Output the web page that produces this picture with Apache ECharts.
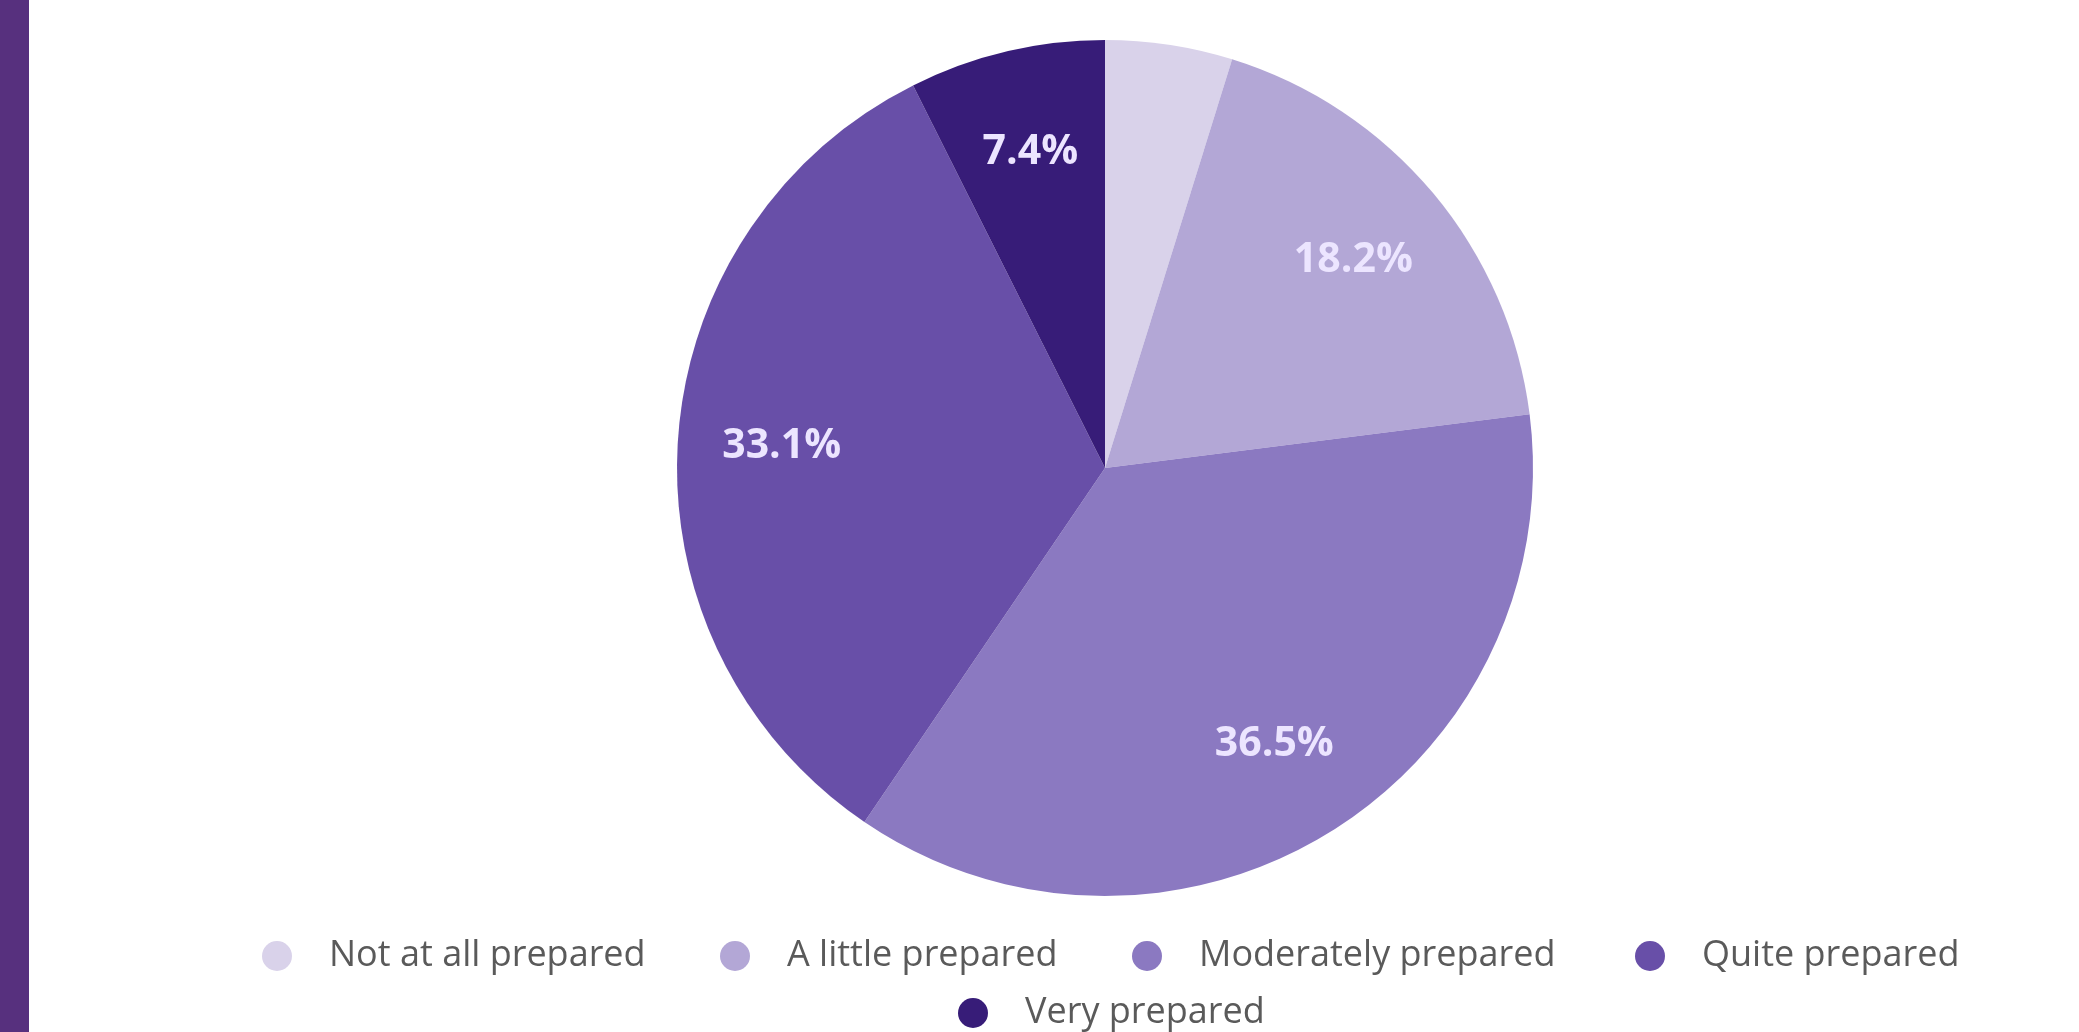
<!DOCTYPE html>
<html lang="en" style="height: 100%">
<head>
  <meta charset="utf-8">
</head>
<body style="height: 100%; margin: 0; background: #ffffff">
  <div id="container" style="height: 100%"></div>

  <script type="text/javascript" src="https://fastly.jsdelivr.net/npm/echarts@6/dist/echarts.min.js"></script>

  <script type="text/javascript">
    const categories = ['Not at all prepared', 'A little prepared', 'Moderately prepared', 'Quite prepared', 'Very prepared'];
    const shares = [4.8, 18.2, 36.5, 33.1, 7.4];
    const colors = ['#d9d2ea', '#b3a7d6', '#8b79c1', '#684fa8', '#371c78'];

    var dom = document.getElementById('container');
    var myChart = echarts.init(dom, null, { renderer: 'canvas' });

    const pieCenter = [1105, 468];
    const pieRadius = 428;

    // one legend per entry so each sits where the original put it
    const legendSpots = [[272, 951], [730, 951], [1142, 951], [1645, 951], [968, 1008]];
    const legends = categories.map((name, i) => ({
      data: [name],
      left: legendSpots[i][0] - 15,
      top: legendSpots[i][1] - 18,
      icon: 'circle',
      itemWidth: 30,
      itemHeight: 30,
      textStyle: {
        fontFamily: 'Open Sans',
        fontSize: 36,
        lineHeight: 36,
        color: '#5a5a5a',
        padding: [0, 0, 0, 32]
      }
    }));

    var option = {
      backgroundColor: '#ffffff',
      graphic: [
        {
          type: 'rect',
          left: 0,
          top: 0,
          shape: { width: 29, height: 1032 },
          style: { fill: '#57307e' },
          silent: true
        }
      ],
      legend: legends,
      series: [
        {
          name: 'Preparedness',
          type: 'pie',
          center: pieCenter,
          radius: pieRadius,
          startAngle: 90,
          clockwise: true,
          label: { show: false },
          labelLine: { show: false },
          emphasis: { scale: false },
          data: categories.map((name, i) => ({
            name: name,
            value: shares[i],
            itemStyle: { color: colors[i] }
          }))
        },
        {
          // transparent ring only used to place the labels further out
          name: 'Labels',
          type: 'pie',
          center: pieCenter,
          radius: [pieRadius / 2, pieRadius],
          startAngle: 90,
          clockwise: true,
          silent: true,
          itemStyle: { color: 'transparent' },
          label: {
            show: true,
            position: 'inside',
            fontFamily: 'Open Sans',
            fontWeight: 'bold',
            fontSize: 41,
            color: '#ece5ff',
            formatter: p => p.value.toFixed(1) + '%'
          },
          labelLine: { show: false },
          data: categories.map((name, i) => ({
            name: name,
            value: shares[i],
            label: { show: i !== 0 }
          }))
        }
      ]
    };

    myChart.setOption(option);
    window.addEventListener('resize', myChart.resize);
  </script>
</body>
</html>
